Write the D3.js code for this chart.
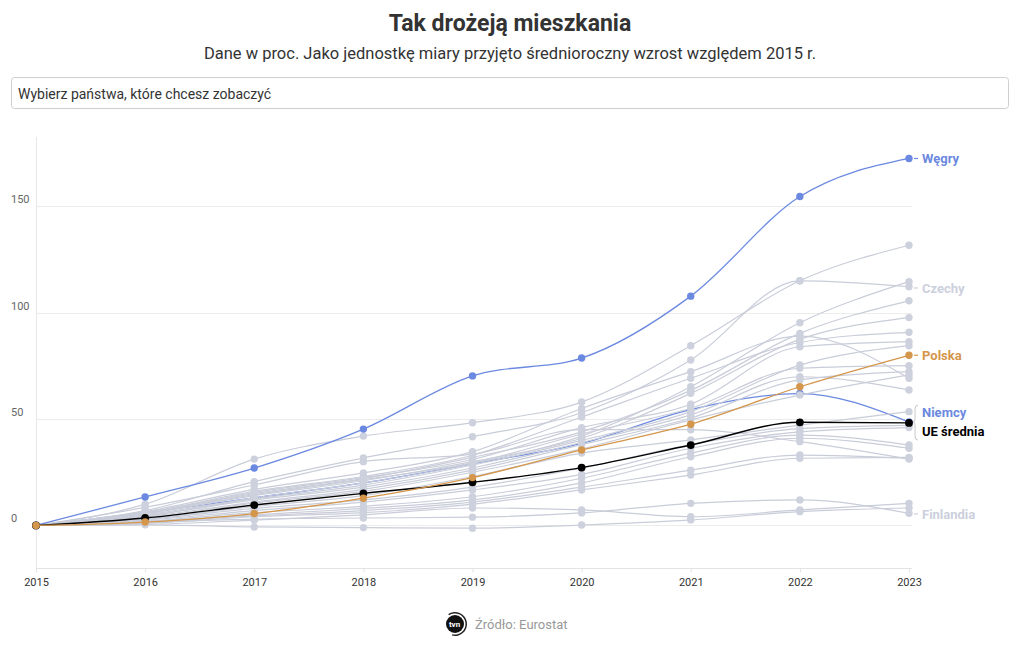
<!DOCTYPE html>
<html><head><meta charset="utf-8">
<script src="https://cdn.jsdelivr.net/npm/d3@7"></script>
<style>
body{margin:0;background:#fff;}
svg{display:block;font-family:Roboto, "Noto Sans", sans-serif;}
</style></head>
<body>
<svg id="chart" width="1020" height="650"></svg>
<script>
// ---------- DATA ----------
const years = [2015, 2016, 2017, 2018, 2019, 2020, 2021, 2022, 2023];
const yTicks = [0, 50, 100, 150];

const hungary = [0, 13.4, 27, 45.3, 70.3, 78.7, 107.8, 154.6, 172.5];
const poland  = [0, 1.6, 5.6, 12.8, 22.5, 35.5, 47.6, 65.2, 80];
const germany = [0, 6, 13, 20, 29, 38.6, 54.5, 62, 48.6];
const euAvg   = [0, 3.5, 9.6, 15.1, 20.3, 27.2, 37.8, 48.5, 48.2];

const greyNames = ["Portugalia","Czechy","Litwa","Estonia","Luksemburg","Bułgaria","Holandia","Słowenia",
  "Chorwacja","Słowacja","Austria","Irlandia","Łotwa","Malta","Hiszpania","Rumunia","Belgia","Grecja",
  "Szwecja","Dania","Francja","Finlandia","Cypr","Włochy"];
const greyValues = [
  [0, 10, 31.2, 42, 48.3, 58, 84.5, 115, 131.7],
  [0, 7, 20.6, 31.7, 41.7, 53, 77.8, 115, 112.2],
  [0, 5, 13, 20, 29, 42, 65.2, 95.3, 114.6],
  [0, 6, 15, 22, 32, 44, 63.5, 90.3, 105.6],
  [0, 6.5, 17, 24.7, 34.7, 55, 72.3, 89, 69.2],
  [0, 5.5, 14, 21, 30, 41, 62.1, 87.5, 97.7],
  [0, 6, 16, 23, 33, 51, 69.2, 86, 90.8],
  [0, 5.8, 15.5, 22.5, 31, 46, 57, 84, 86.4],
  [0, 4.5, 12.5, 19, 28.4, 40, 53.5, 75.4, 84.5],
  [0, 5.5, 14.5, 21.5, 29.4, 43, 55.1, 73.9, 75.1],
  [0, 4.5, 12, 18, 27, 39, 52, 69.9, 63.7],
  [0, 4, 11, 17, 26, 38, 50.5, 68.4, 72.3],
  [0, 3.5, 10.5, 16, 25, 36, 49.6, 61.3, 70.8],
  [0, 3, 9, 14, 23, 34, 40.2, 47.2, 53.5],
  [0, 2.8, 8, 12, 18, 27, 38, 45.5, 47],
  [0, 2.5, 7, 11, 16.7, 24, 36.3, 44, 46],
  [0, 2, 6, 9, 13.5, 22.2, 34, 42.5, 37.8],
  [0, 1.8, 5, 8, 12, 20, 32.3, 41, 36.3],
  [0, 8.5, 19, 30, 33.5, 45, 45, 39.4, 31.2],
  [0, 1.5, 4.5, 7, 11, 18, 26, 33.1, 31.6],
  [0, 1, 4.1, 6, 10, 16.7, 23.7, 31.6, 32],
  [0, 1.5, 3, 3.5, 3.9, 5.9, 10.4, 12, 5.7],
  [0, 0.5, 2.5, 5, 8.2, 7.3, 4.1, 7.3, 10.4],
  [0, 0.3, -0.7, -1, -1.3, 0.2, 2.6, 6.5, 8.2]
];

// ---------- STYLE ----------
const C_BLUE = "#6b89e0", C_ORANGE = "#d4964a", C_BLACK = "#000000", C_GREY = "#cdd1dd", C_GREYLINE = "#c9cdd9";

const svg = d3.select("#chart");

// Title & subtitle
svg.append("text").attr("x", 510).attr("y", 31).attr("text-anchor", "middle")
  .attr("font-size", 23).attr("font-weight", 700).attr("fill", "#333")
  .text("Tak drożeją mieszkania");
svg.append("text").attr("x", 510).attr("y", 59).attr("text-anchor", "middle")
  .attr("font-size", 16.5).attr("fill", "#333")
  .text("Dane w proc. Jako jednostkę miary przyjęto średnioroczny wzrost względem 2015 r.");

// Select box
svg.append("rect").attr("x", 11.5).attr("y", 77.5).attr("width", 997).attr("height", 31)
  .attr("rx", 3).attr("fill", "#fff").attr("stroke", "#cfcfcf");
svg.append("text").attr("x", 18).attr("y", 99).attr("font-size", 14).attr("fill", "#333")
  .text("Wybierz państwa, które chcesz zobaczyć");

// Scales
const x = d3.scaleLinear().domain([2015, 2023]).range([36, 909]);
const y = d3.scaleLinear().domain([-20, 182.6]).range([568, 137]);

const plot = svg.append("g");

// Gridlines
plot.selectAll(".grid").data(yTicks).join("line")
  .attr("x1", 36).attr("x2", 912)
  .attr("y1", d => Math.round(y(d)) + 0.5).attr("y2", d => Math.round(y(d)) + 0.5)
  .attr("stroke", "#ececec");
plot.selectAll(".ylab").data(yTicks).join("text")
  .attr("x", 11).attr("y", d => y(d) - 3)
  .attr("font-size", 11).attr("fill", "#666").text(d => d);

// left axis line
plot.append("line").attr("x1", 36.5).attr("x2", 36.5).attr("y1", 137).attr("y2", 568).attr("stroke", "#e8e8e8");

// X axis
const xAxis = d3.axisBottom(x).tickValues(years).tickFormat(d3.format("d")).tickSize(4).tickPadding(6);
const gx = plot.append("g").attr("transform", "translate(0,568.5)").call(xAxis);
gx.select(".domain").attr("stroke", "#e3e3e3").attr("d", "M36,0H912");
gx.selectAll(".tick line").attr("stroke", "#e3e3e3");
gx.selectAll(".tick text").attr("font-size", 11).attr("fill", "#333").attr("font-family", "Roboto, sans-serif");

const line = d3.line().x((d, i) => x(years[i])).y(d => y(d)).curve(d3.curveMonotoneX);

function drawSeries(vals, color, width) {
  plot.append("path").attr("d", line(vals)).attr("fill", "none").attr("stroke", color).attr("stroke-width", width);
}
function drawPoints(vals, color, r) {
  plot.append("g").selectAll("circle").data(vals).join("circle")
    .attr("cx", (d, i) => x(years[i])).attr("cy", d => y(d)).attr("r", r).attr("fill", color);
}

// Germany first (partly covered by grey lines and points)
drawSeries(germany, C_BLUE, 1.3);
drawPoints(germany, C_BLUE, 3.7);
greyValues.forEach(v => drawSeries(v, C_GREYLINE, 1.2));
greyValues.forEach(v => drawPoints(v.slice(0, -1), C_GREY, 3.7));
greyValues.forEach(v => plot.append("circle").attr("cx", x(years[years.length - 1])).attr("cy", y(v[v.length - 1])).attr("r", 3.7).attr("fill", C_GREY));
drawSeries(hungary, C_BLUE, 1.3); drawPoints(hungary, C_BLUE, 3.7);
drawSeries(euAvg, C_BLACK, 1.4); drawPoints(euAvg, C_BLACK, 3.9);
drawSeries(poland, C_ORANGE, 1.3); drawPoints(poland, C_ORANGE, 3.7);

// End labels
const last = years.length - 1;
const labels = [
  {name: "Węgry", ly: y(hungary[last]), color: C_BLUE},
  {name: "Czechy", ly: 288, color: "#ccd0dc"},
  {name: "Polska", ly: y(poland[last]), color: C_ORANGE},
  {name: "Finlandia", ly: 514, color: "#ccd0dc"}
];
labels.forEach(l => {
  plot.append("line").attr("x1", 914).attr("x2", 918).attr("y1", l.ly).attr("y2", l.ly)
    .attr("stroke", l.color).attr("stroke-width", 1.2);
  plot.append("text").attr("x", 922).attr("y", l.ly).attr("dy", "0.35em")
    .attr("font-size", 13).attr("font-weight", 700).attr("fill", l.color).text(l.name);
});
// Niemcy + UE średnia with brace
plot.append("path").attr("d", "M918,405 Q915,405 915,409 L915,419 Q915,422 913,422 Q915,422 915,425 L915,436 Q915,440 918,440")
  .attr("fill", "none").attr("stroke", "#c8c8c8").attr("stroke-width", 1);
plot.append("text").attr("x", 922).attr("y", 412).attr("dy", "0.35em").attr("font-size", 13)
  .attr("font-weight", 700).attr("fill", C_BLUE).text("Niemcy");
plot.append("text").attr("x", 922).attr("y", 431).attr("dy", "0.35em").attr("font-size", 13)
  .attr("font-weight", 700).attr("fill", C_BLACK).text("UE średnia");

// Footer
const logo = svg.append("g").attr("transform", "translate(455,624)");
logo.append("path").attr("d", d3.arc()({innerRadius: 10.5, outerRadius: 12, startAngle: -0.6, endAngle: 3.4})).attr("fill", "#222");
logo.append("circle").attr("r", 9).attr("fill", "#111");
logo.append("text").attr("x", -0.5).attr("y", 0).attr("dy", "0.35em").attr("text-anchor", "middle")
  .attr("font-size", 8).attr("font-weight", 700).attr("fill", "#fff").text("tvn");
svg.append("text").attr("x", 475).attr("y", 624).attr("dy", "0.35em").attr("font-size", 13)
  .attr("fill", "#999").text("Źródło: Eurostat");
</script>
</body></html>
